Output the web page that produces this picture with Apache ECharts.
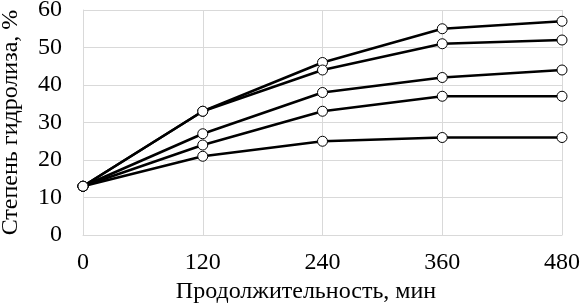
<!DOCTYPE html>
<html>
<head>
<meta charset="utf-8">
<script src="https://cdn.jsdelivr.net/npm/echarts@6/dist/echarts.min.js"></script>
<style>
  html, body { margin: 0; padding: 0; background: #fff; }
  #chart { width: 583px; height: 305px; }
</style>
</head>
<body>
<div id="chart"></div>
<script>
// Time points, min
const minutes = [0, 120, 240, 360, 480];

// Hydrolysis degree, % (five curves, top to bottom)
const curve1 = [13, 33, 46, 55, 57];
const curve2 = [13, 33, 44, 51, 52];
const curve3 = [13, 27, 38, 42, 44];
const curve4 = [13, 24, 33, 37, 37];
const curve5 = [13, 21, 25, 26, 26];

const curves = [curve1, curve2, curve3, curve4, curve5];
const serif = '"Liberation Serif", "DejaVu Serif", serif';
const gridColor = '#d9d9d9';

const chart = echarts.init(document.getElementById('chart'), null, { renderer: 'canvas' });

chart.setOption({
  animation: false,
  backgroundColor: '#fff',
  // fixed plot box; labels are allowed to touch the canvas edge
  grid: { left: 83, right: 21, top: 10, bottom: 70, containLabel: false, outerBoundsMode: 'none' },
  xAxis: {
    type: 'value',
    min: 0,
    max: 480,
    interval: 120,
    name: 'Продолжительность, мин',
    nameLocation: 'middle',
    nameGap: 43,
    // title sits a bit left of the plot centre in the original
    nameTextStyle: { fontFamily: serif, fontSize: 24, color: '#000', padding: [0, 33, 0, 0] },
    axisLine: { show: true, lineStyle: { color: gridColor, width: 1 } },
    axisTick: { show: false },
    axisLabel: { fontFamily: serif, fontSize: 24, color: '#000', margin: 16 },
    splitLine: { show: true, lineStyle: { color: gridColor, width: 1 } }
  },
  yAxis: {
    type: 'value',
    min: 0,
    max: 60,
    interval: 10,
    name: 'Степень гидролиза, %',
    nameLocation: 'middle',
    nameGap: 60,
    nameTextStyle: { fontFamily: serif, fontSize: 24, color: '#000' },
    axisLine: { show: true, lineStyle: { color: gridColor, width: 1 } },
    axisTick: { show: false },
    axisLabel: { fontFamily: serif, fontSize: 24, color: '#000', margin: 21 },
    splitLine: { show: true, lineStyle: { color: gridColor, width: 1 } }
  },
  series: curves.map(values => ({
    type: 'line',
    data: minutes.map((m, i) => [m, values[i]]),
    symbol: 'circle',
    symbolSize: 10,
    lineStyle: { color: '#000', width: 2.5 },
    itemStyle: { color: '#fff', borderColor: '#000', borderWidth: 1 },
    emphasis: { disabled: true }
  }))
});
</script>
</body>
</html>
